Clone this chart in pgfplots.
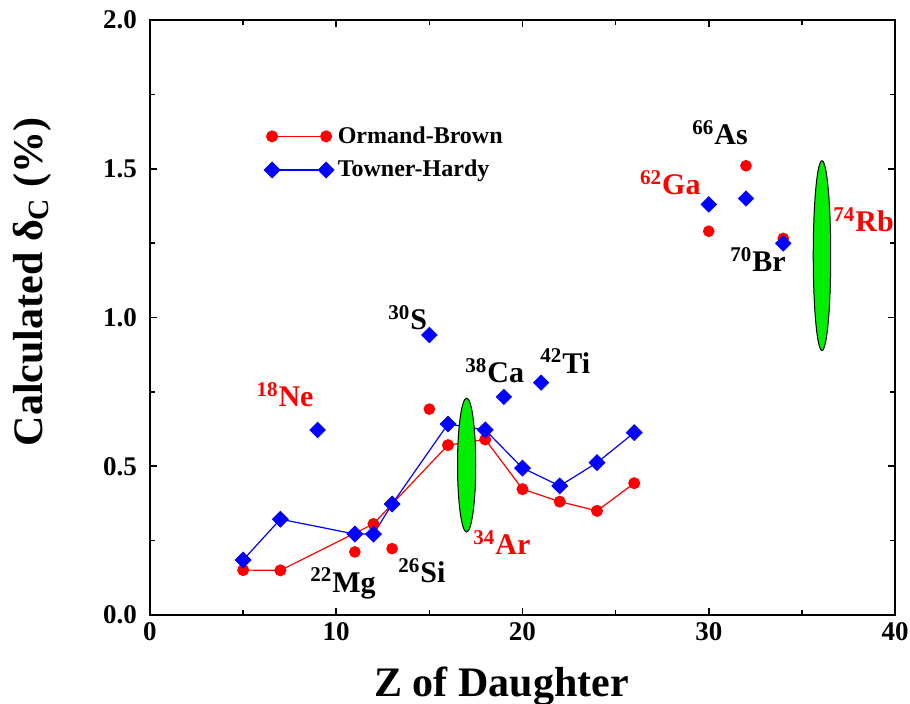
\documentclass[border=0pt]{standalone}
\usepackage{pgfplots}
\pgfplotsset{compat=1.18}
\usepackage{fontspec}
\setmainfont{Liberation Serif}
\definecolor{cRed}{HTML}{FF0000}
\definecolor{cBlue}{HTML}{0000FF}
\definecolor{cGreen}{HTML}{00EE00}
\newcommand{\lab}[2]{\fontsize{15}{17}\selectfont\bfseries\textsuperscript{#1}#2}

\begin{document}
\begin{tikzpicture}
\begin{axis}[
  scale only axis, width=372.5pt, height=297.5pt,
  xmin=0, xmax=40, ymin=0, ymax=2,
  xtick={0,10,...,40}, ytick={0,0.5,...,2},
  minor tick num=1,
  tick align=inside, major tick length=3.5pt, minor tick length=2.5pt,
  axis line style={line width=1pt}, every tick/.style={black, line width=0.8pt},
  ticklabel style={font=\fontsize{13.5}{15}\selectfont\bfseries},
  /pgf/number format/assume math mode=true,
  yticklabel style={/pgf/number format/fixed, /pgf/number format/fixed zerofill,
    /pgf/number format/precision=1, xshift=-3pt},
  xlabel={Z of Daughter},
  ylabel={Calculated δ\textsubscript{C} (\%)},
  label style={font=\fontsize{21}{23}\selectfont\bfseries},
  xlabel style={at={(axis description cs:0.472,-0.12)}, anchor=center},
  ylabel style={at={(axis description cs:-0.158,0.56)}, anchor=center, rotate=0},
  legend style={draw=none, fill=none, at={(axis description cs:0.145,0.835)},
    anchor=north west, font=\fontsize{12}{14}\selectfont\bfseries, row sep=3pt},
  legend cell align=left,
  legend image code/.code={\draw[#1] plot coordinates {(0cm,0cm)(0.95cm,0cm)};},
]
% connected series
\addplot[cRed, line width=0.6pt, mark=*, mark size=2.7pt] coordinates {
  (5,0.151)(7,0.150)(12,0.306)(13,0.373)(16,0.571)(18,0.590)
  (20,0.423)(22,0.381)(24,0.350)(26,0.443)};
\addplot[cBlue, line width=0.6pt, mark=square*, mark size=2.7pt, mark options={rotate=45}] coordinates {
  (5,0.185)(7,0.322)(11,0.272)(12,0.272)(13,0.373)(16,0.642)(18,0.622)
  (20,0.494)(22,0.434)(24,0.512)(26,0.613)};
\legend{Ormand-Brown, Towner-Hardy}
% isolated points
\addplot[cRed, only marks, mark=*, mark size=2.7pt, forget plot] coordinates {
  (11,0.212)(13,0.223)(15,0.692)(30,1.290)(32,1.510)(34,1.266)};
\addplot[cBlue, only marks, mark=square*, mark size=2.7pt, mark options={rotate=45}, forget plot] coordinates {
  (9,0.622)(15,0.941)(19,0.733)(21,0.781)(30,1.380)(32,1.400)(34,1.249)};
% ellipses
\draw[fill=cGreen, line width=0.5pt] (axis cs:17,0.504) ellipse [x radius=0.49, y radius=0.225];
\draw[fill=cGreen, line width=0.5pt] (axis cs:36.08,1.208) ellipse [x radius=0.47, y radius=0.319];
% nuclide labels
\node[anchor=base west, text=cRed, inner sep=0] at (axis cs:5.7,0.70) {\lab{18}{Ne}};
\node[anchor=base west, inner sep=0] at (axis cs:8.59,0.077) {\lab{22}{Mg}};
\node[anchor=base west, inner sep=0] at (axis cs:13.32,0.108) {\lab{26}{Si}};
\node[anchor=base west, inner sep=0] at (axis cs:12.78,0.958) {\lab{30}{S}};
\node[anchor=base west, text=cRed, inner sep=0] at (axis cs:17.34,0.202) {\lab{34}{Ar}};
\node[anchor=base west, inner sep=0] at (axis cs:16.91,0.78) {\lab{38}{Ca}};
\node[anchor=base west, inner sep=0] at (axis cs:20.94,0.813) {\lab{42}{Ti}};
\node[anchor=base west, text=cRed, inner sep=0] at (axis cs:26.3,1.412) {\lab{62}{Ga}};
\node[anchor=base west, inner sep=0] at (axis cs:29.1,1.58) {\lab{66}{As}};
\node[anchor=base west, inner sep=0] at (axis cs:31.14,1.154) {\lab{70}{Br}};
\node[anchor=base west, text=cRed, inner sep=0] at (axis cs:36.67,1.288) {\lab{74}{Rb}};
\end{axis}
\pgfresetboundingbox
\path[use as bounding box] ([shift={(-75pt,-44.5pt)}]current axis.south west)
  rectangle ([shift={(7.5pt,10pt)}]current axis.north east);
\end{tikzpicture}
\end{document}
